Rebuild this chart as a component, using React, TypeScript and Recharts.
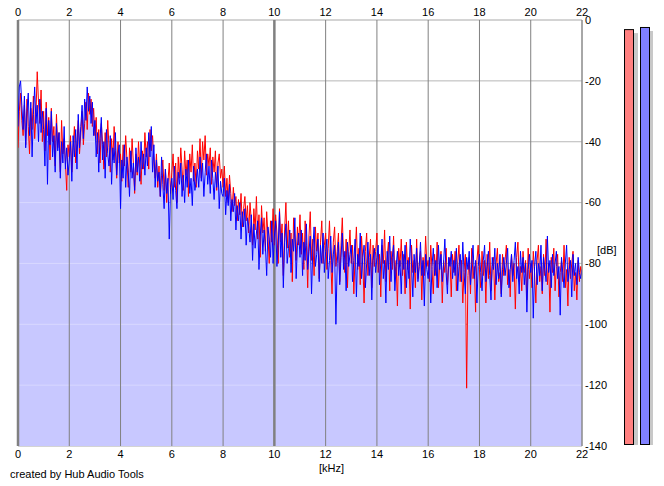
import React from 'react';
import {
  ComposedChart,
  Line,
  Area,
  XAxis,
  YAxis,
  CartesianGrid,
  ReferenceLine,
  BarChart,
  Bar,
} from 'recharts';

// Spectrum bin spacing (kHz)
const STEP_KHZ = 0.05;
const FREQ_TICKS = [0, 2, 4, 6, 8, 10, 12, 14, 16, 18, 20, 22];
const DB_TICKS = [0, -20, -40, -60, -80, -100, -120, -140];

// Left channel (red), dB per bin, 0 .. 22 kHz
const RED_DB = [
  -42, -30, -24, -33, -38, -28, -41, -26, -35, -44, -29, -36, -25, -39, -31, -17, -27, -34, -23, -40,
  -30, -43, -27, -38, -32, -46, -29, -40, -35, -48, -31, -42, -37, -50, -33, -44, -39, -47, -56, -41,
  -45, -38, -50, -42, -35, -47, -40, -33, -44, -37, -30, -41, -34, -27, -36, -24, -31, -26, -35, -29,
  -38, -32, -44, -36, -47, -34, -41, -49, -37, -45, -33, -42, -50, -39, -46, -35, -43, -52, -40, -47,
  -44, -53, -41, -48, -38, -46, -55, -42, -50, -39, -47, -57, -44, -51, -40, -48, -54, -43, -49, -37,
  -45, -40, -49, -36, -43, -38, -47, -52, -44, -55, -48, -58, -51, -46, -56, -49, -60, -53, -47, -57,
  -50, -44, -55, -47, -60, -45, -52, -42, -49, -56, -43, -51, -46, -58, -44, -50, -41, -53, -47, -55,
  -43, -49, -39, -52, -40, -46, -38, -51, -44, -48, -42, -54, -45, -50, -43, -56, -47, -44, -52, -49,
  -55, -48, -58, -52, -60, -51, -57, -63, -55, -61, -58, -66, -59, -64, -57, -68, -62, -58, -66, -61,
  -70, -60, -66, -74, -62, -69, -58, -72, -64, -78, -61, -70, -65, -76, -63, -71, -80, -66, -73, -62,
  -74, -64, -70, -80, -62, -73, -67, -84, -69, -60, -75, -66, -78, -70, -86, -65, -72, -79, -68, -74,
  -64, -77, -70, -82, -66, -74, -88, -71, -63, -79, -72, -84, -68, -76, -70, -85, -73, -66, -80, -74,
  -70, -82, -75, -66, -79, -90, -73, -68, -81, -76, -70, -86, -74, -65, -78, -83, -72, -88, -76, -69,
  -80, -74, -90, -77, -68, -82, -75, -87, -71, -79, -93, -76, -70, -84, -78, -72, -88, -74, -81, -76,
  -70, -83, -77, -91, -74, -80, -69, -86, -78, -73, -89, -76, -82, -71, -85, -79, -94, -75, -81, -72,
  -84, -77, -90, -73, -82, -78, -95, -74, -83, -79, -88, -72, -85, -80, -76, -92, -78, -84, -71, -81,
  -79, -86, -74, -82, -90, -77, -84, -73, -88, -80, -76, -93, -79, -83, -75, -87, -81, -78, -91, -77,
  -83, -76, -89, -80, -74, -86, -79, -93, -82, -77, -121, -84, -78, -90, -75, -85, -81, -96, -79, -74,
  -82, -88, -76, -84, -79, -93, -77, -85, -73, -89, -81, -78, -92, -80, -75, -86, -83, -90, -77, -84,
  -79, -74, -87, -82, -91, -77, -84, -80, -95, -78, -73, -86, -81, -89, -76, -83, -79, -92, -75, -85,
  -80, -88, -76, -83, -93, -79, -74, -86, -81, -90, -77, -84, -72, -87, -80, -96, -78, -83, -75, -89,
  -81, -77, -91, -83, -79, -86, -74, -88, -82, -94, -78, -85, -80, -76, -89, -83, -92, -79, -86, -81,
  -84,
];

// Right channel (blue), dB per bin, 0 .. 22 kHz
const BLUE_DB = [
  -35, -22, -20, -28, -36, -25, -42, -30, -24, -38, -27, -45, -31, -22, -34, -28, -40, -26, -37, -30,
  -36, -48, -29, -54, -33, -41, -30, -45, -38, -50, -34, -43, -37, -52, -40, -47, -35, -49, -42, -51,
  -46, -40, -53, -38, -45, -36, -49, -31, -42, -35, -28, -39, -26, -33, -22, -30, -25, -34, -27, -38,
  -33, -45, -37, -50, -39, -32, -46, -40, -52, -36, -44, -48, -38, -54, -42, -47, -37, -51, -44, -41,
  -62, -46, -52, -41, -55, -45, -50, -58, -43, -52, -47, -56, -42, -50, -45, -53, -40, -49, -44, -51,
  -42, -48, -37, -45, -35, -50, -41, -55, -46, -53, -50, -58, -45, -54, -62, -49, -57, -52, -72, -55,
  -52, -59, -48, -56, -62, -50, -54, -47, -58, -51, -60, -49, -55, -46, -57, -52, -61, -48, -56, -53,
  -49, -55, -45, -53, -47, -58, -50, -44, -54, -48, -57, -46, -52, -59, -50, -55, -48, -62, -53, -57,
  -58, -52, -64, -56, -61, -54, -66, -59, -63, -57, -69, -61, -66, -60, -72, -63, -68, -62, -74, -65,
  -68, -73, -64, -79, -67, -75, -70, -66, -82, -71, -65, -77, -69, -74, -84, -68, -72, -78, -66, -80,
  -71, -66, -81, -74, -63, -78, -70, -88, -73, -67, -80, -75, -69, -83, -72, -76, -65, -85, -74, -70,
  -78, -69, -84, -73, -79, -67, -82, -76, -71, -90, -75, -68, -81, -77, -72, -86, -74, -80, -70, -83,
  -76, -72, -85, -79, -71, -83, -77, -74, -100, -80, -73, -87, -78, -70, -82, -76, -89, -73, -81, -77,
  -74, -86, -79, -72, -91, -77, -81, -70, -85, -78, -74, -88, -80, -73, -84, -77, -92, -79, -75, -83,
  -78, -74, -87, -80, -72, -85, -79, -93, -76, -82, -71, -86, -78, -74, -89, -81, -76, -84, -79, -90,
  -76, -82, -74, -88, -79, -85, -72, -80, -91, -77, -83, -75, -86, -81, -73, -84, -79, -94, -77, -82,
  -85, -78, -93, -81, -75, -84, -79, -88, -74, -82, -77, -86, -80, -72, -83, -90, -78, -81, -76, -85,
  -79, -84, -75, -89, -81, -77, -86, -73, -83, -90, -78, -82, -76, -87, -80, -74, -85, -79, -93, -81,
  -77, -83, -89, -79, -74, -86, -81, -76, -84, -92, -78, -82, -75, -87, -80, -85, -77, -91, -82, -78,
  -84, -80, -75, -88, -82, -77, -86, -79, -73, -85, -81, -90, -76, -83, -78, -87, -80, -96, -82, -77,
  -83, -79, -98, -81, -76, -87, -80, -84, -74, -89, -78, -82, -86, -71, -83, -79, -88, -77, -84, -80,
  -76, -85, -81, -97, -78, -83, -88, -80, -74, -86, -82, -79, -91, -77, -84, -80, -87, -78, -83, -85,
  -82,
];

// Level meters
const METER_CHANNELS = ['L', 'R'];
const METER_LEVELS = [-3.0, -2.3];
const METER_FLOOR = -140;

const METER_COLORS = ['#FF8080', '#8080FF'];
const FONT = '"Liberation Sans", Arial, sans-serif';

const spectrum = RED_DB.map((r, i) => ({
  f: Math.round(i * STEP_KHZ * 100) / 100,
  red: r,
  blue: BLUE_DB[i],
  floor: Math.min(r, BLUE_DB[i]),
}));

const meterData = METER_CHANNELS.map((ch, i) => ({
  ch,
  range: [METER_FLOOR, METER_LEVELS[i]],
}));

const tickStyle = { fill: '#000', fontSize: 11, fontFamily: FONT };

const MeterShape = (props: any) => {
  const { x, y, width, height, index } = props;
  return (
    <g>
      <rect x={x + 4} y={y + 4} width={width} height={height} fill="#C8C8C8" />
      <rect
        x={x + 0.5}
        y={y + 0.5}
        width={width - 1}
        height={height - 1}
        fill={METER_COLORS[index % METER_COLORS.length]}
        stroke="#000"
        strokeWidth={1}
      />
    </g>
  );
};

export default function App() {
  return (
    <div
      style={{
        position: 'absolute',
        left: 0,
        top: 0,
        width: 664,
        height: 486,
        background: '#fff',
        fontFamily: FONT,
      }}
    >
      <ComposedChart
        width={664}
        height={486}
        data={spectrum}
        margin={{ top: 0, right: 42, bottom: 20, left: 18 }}
      >
        <CartesianGrid
          xAxisId="b"
          yAxisId="r"
          vertical={false}
          stroke="#A8A8A8"
          strokeWidth={1}
        />
        <XAxis
          xAxisId="t"
          orientation="top"
          type="number"
          dataKey="f"
          domain={[0, 22]}
          ticks={FREQ_TICKS}
          height={20}
          axisLine={false}
          tickLine={false}
          tickSize={0}
          tickMargin={4}
          tick={tickStyle}
          interval={0}
          allowDataOverflow
        />
        <XAxis
          xAxisId="b"
          orientation="bottom"
          type="number"
          dataKey="f"
          domain={[0, 22]}
          ticks={FREQ_TICKS}
          height={20}
          axisLine={false}
          tickLine={false}
          tickSize={0}
          tickMargin={4}
          tick={tickStyle}
          interval={0}
          allowDataOverflow
        />
        <YAxis
          yAxisId="r"
          orientation="right"
          type="number"
          domain={[-140, 0]}
          ticks={DB_TICKS}
          width={40}
          axisLine={{ stroke: '#909090' }}
          tickLine={false}
          tickSize={0}
          tickMargin={3}
          tick={tickStyle}
          interval={0}
          allowDataOverflow
        />
        <Area
          xAxisId="b"
          yAxisId="r"
          type="linear"
          dataKey="floor"
          baseValue={-140}
          fill="#C8C8FF"
          fillOpacity={1}
          stroke="none"
          isAnimationActive={false}
          dot={false}
          activeDot={false}
        />
        {DB_TICKS.filter((d) => d !== 0 && d !== -140).map((d) => (
          <ReferenceLine
            key={'h' + d}
            xAxisId="b"
            yAxisId="r"
            y={d}
            stroke="#FFFFFF"
            strokeOpacity={0.3}
            strokeWidth={1}
          />
        ))}
        {FREQ_TICKS.map((f) => (
          <ReferenceLine
            key={'v' + f}
            xAxisId="b"
            yAxisId="r"
            x={f}
            stroke="#808080"
            strokeWidth={f === 0 || f === 10 ? 2.5 : 1}
          />
        ))}
        <Line
          xAxisId="b"
          yAxisId="r"
          type="linear"
          dataKey="red"
          stroke="#FF0000"
          strokeWidth={1}
          dot={false}
          activeDot={false}
          isAnimationActive={false}
        />
        <Line
          xAxisId="b"
          yAxisId="r"
          type="linear"
          dataKey="blue"
          stroke="#0000FF"
          strokeWidth={1}
          dot={false}
          activeDot={false}
          isAnimationActive={false}
        />
      </ComposedChart>

      <div style={{ position: 'absolute', left: 621, top: 0 }}>
        <BarChart
          width={32}
          height={486}
          data={meterData}
          margin={{ top: 20, right: 0, bottom: 41, left: 0 }}
          barCategoryGap={3}
        >
          <XAxis dataKey="ch" hide />
          <YAxis type="number" domain={[-140, 0]} hide allowDataOverflow />
          <Bar
            dataKey="range"
            barSize={10}
            shape={MeterShape}
            isAnimationActive={false}
          />
        </BarChart>
      </div>

      <div
        style={{
          position: 'absolute',
          left: 597,
          top: 244,
          fontSize: 11,
          lineHeight: '12px',
          color: '#000',
        }}
      >
        [dB]
      </div>
      <div
        style={{
          position: 'absolute',
          left: 319,
          top: 462,
          fontSize: 11,
          lineHeight: '12px',
          color: '#000',
        }}
      >
        [kHz]
      </div>
      <div
        style={{
          position: 'absolute',
          left: 10,
          top: 468,
          fontSize: 11,
          lineHeight: '12px',
          color: '#000',
          whiteSpace: 'nowrap',
        }}
      >
        created by Hub Audio Tools
      </div>
    </div>
  );
}
